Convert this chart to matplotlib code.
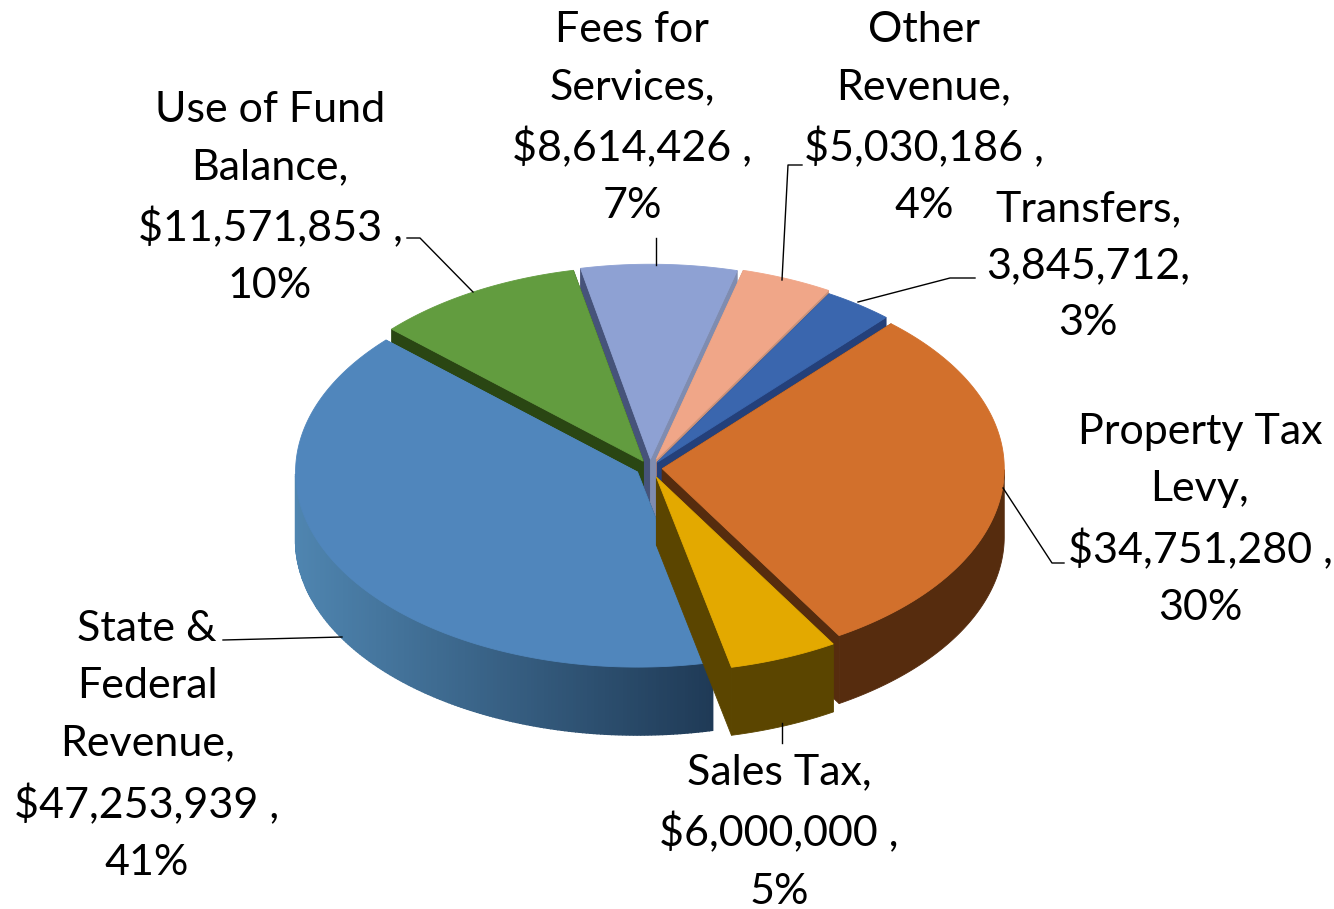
"""
Revenue pie drawn as an exploded 3D disc (matplotlib has no 3D pie, so polygons on an ellipse).
"""
import numpy as np
import matplotlib
matplotlib.use('Agg')
import matplotlib.pyplot as plt
from matplotlib.colors import to_rgb
from matplotlib.patches import Polygon

plt.rcParams['font.family'] = ['Lato', 'DejaVu Sans']

# clockwise from the start angle
names = ['Property Tax', 'Sales Tax', 'State & Federal', 'Use of Fund', 'Fees', 'Other', 'Transfers']
values = [34751280, 6000000, 47253939, 11571853, 8614426, 5030186, 3845712]

top_colors = ['#d2702c', '#e3a900', '#5086bc', '#629c3f', '#8ea1d3', '#f0a688', '#3a66ae']
wall_colors = ['#562c0e', '#5b4500', '#25425f', '#2a4613', '#46537a', '#c9927a', '#24407a']
side_colors = ['#562c0e', '#5b4500', '#4f85b0', '#2a4613', '#7f8cb0', '#c9927a', '#24407a']
explode = [0.036, 0.05, 0.042, 0.04, 0.045, 0.05, 0.036]

label_text = ['Property Tax\nLevy,\n$34,751,280 ,\n30%',
              'Sales Tax,\n$6,000,000 ,\n5%',
              'State &\nFederal\nRevenue,\n$47,253,939 ,\n41%',
              'Use of Fund\nBalance,\n$11,571,853 ,\n10%',
              'Fees for\nServices,\n$8,614,426 ,\n7%',
              'Other\nRevenue,\n$5,030,186 ,\n4%',
              'Transfers,\n3,845,712,\n3%']
label_x = [1200, 779, 147, 270, 632, 924, 1088]
label_y = [520, 832, 746, 198, 118, 118, 266]

leaders = [[(1064, 563), (1052, 563), (1003, 488)],
           [(782, 723), (782, 743)],
           [(223, 640), (342, 637)],
           [(407, 238), (420, 238), (473, 292)],
           [(656, 238), (656, 265)],
           [(802, 165), (788, 165), (782, 280)],
           [(975, 278), (950, 278), (858, 302)]]

CX, CY = 650, 468
RX, RY = 342, 195
DEPTH = 68
START = 48

W, H = 1334, 909
fig = plt.figure(figsize=(W / 100, H / 100), dpi=100)
ax = fig.add_axes([0, 0, 1, 1])
ax.set_xlim(0, W)
ax.set_ylim(H, 0)
ax.axis('off')

sweep = np.array(values) / sum(values) * 360
ends = START - np.cumsum(sweep)
starts = ends + sweep


def rim(ox, oy, t):
    r = np.radians(t)
    return ox + RX * np.cos(r), oy - RY * np.sin(r)


def poly(pts, color, z, lw=0.6):
    ax.add_patch(Polygon(pts, closed=True, fc=color, ec=color, lw=lw, zorder=z))


mids = (starts + ends) / 2
order = np.argsort(-np.sin(np.radians(mids)))  # back slices first
for z, i in enumerate(order):
    z = z * 10 + 1
    m = np.radians(mids[i])
    ox = CX + explode[i] * RX * np.cos(m)
    oy = CY - explode[i] * RY * np.sin(m)

    # cut faces
    for t, col in ((starts[i], wall_colors[i]), (ends[i], side_colors[i])):
        x1, y1 = rim(ox, oy, t)
        poly([(ox, oy), (x1, y1), (x1, y1 + DEPTH), (ox, oy + DEPTH)], col, z)

    # outer wall, only the front half of the disc can be seen
    ts = np.linspace(starts[i], ends[i], 240)
    front = ts[np.sin(np.radians(ts)) < 0]
    if names[i] == 'State & Federal':
        # strips so this slice can carry its gradient
        for a, b in zip(front[:-1], front[1:]):
            xa, ya = rim(ox, oy, a)
            xb, yb = rim(ox, oy, b)
            x_frac = np.clip((xa - 295) / (715 - 295), 0, 1)
            col = np.array(to_rgb('#4f85b0')) * (1 - x_frac) + np.array(to_rgb('#1f3a56')) * x_frac
            poly([(xa, ya), (xb, yb), (xb, yb + DEPTH), (xa, ya + DEPTH)], tuple(col), z + 1, lw=1.0)
    elif len(front) > 1:
        fx, fy = rim(ox, oy, front)
        poly(np.vstack([np.column_stack([fx, fy]), np.column_stack([fx, fy + DEPTH])[::-1]]),
             wall_colors[i], z + 1)

    # top face
    tx, ty = rim(ox, oy, ts)
    poly(np.vstack([[ox, oy], np.column_stack([tx, ty])]), top_colors[i], z + 2)

for pts in leaders:
    xs, ys = zip(*pts)
    ax.plot(xs, ys, color='black', lw=1.0, zorder=100)

for txt, x, y in zip(label_text, label_x, label_y):
    ax.text(x, y, txt, ha='center', va='center', fontsize=31, color='black',
            linespacing=1.615, zorder=101)

fig.savefig('out.png', dpi=100)
